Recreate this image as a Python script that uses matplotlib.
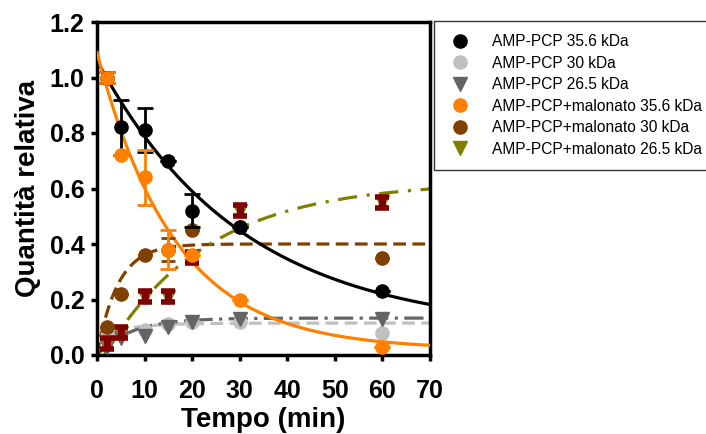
import numpy as np
import matplotlib
matplotlib.use("Agg")
import matplotlib.pyplot as plt
from matplotlib.lines import Line2D

plt.rcParams['font.family'] = ['Liberation Sans', 'DejaVu Sans']

# ---- data ----
t = np.array([2, 5, 10, 15, 20, 30, 60])
amp_356 = [1.00, 0.82, 0.81, 0.70, 0.52, 0.46, 0.23]
amp_356_err = [0.02, 0.10, 0.08, 0.00, 0.06, 0.00, 0.00]
amp_30 = [0.07, 0.08, 0.09, 0.11, 0.12, 0.12, 0.08]
amp_265 = [0.03, 0.06, 0.07, 0.10, 0.12, 0.13, 0.13]
mal_356 = [1.00, 0.72, 0.64, 0.38, 0.36, 0.20, 0.03]
mal_356_err = [0.02, 0.00, 0.10, 0.07, 0.00, 0.00, 0.00]
mal_30 = [0.10, 0.22, 0.36, 0.38, 0.45, 0.46, 0.35]
mal_30_err = [0.00, 0.00, 0.00, 0.04, 0.00, 0.00, 0.00]
mal_265 = [0.04, 0.08, 0.21, 0.21, 0.35, 0.52, 0.55]
mal_265_err = [0.02, 0.02, 0.02, 0.02, 0.02, 0.02, 0.02]

labels = ["AMP-PCP 35.6 kDa", "AMP-PCP 30 kDa", "AMP-PCP 26.5 kDa",
          "AMP-PCP+malonato 35.6 kDa", "AMP-PCP+malonato 30 kDa",
          "AMP-PCP+malonato 26.5 kDa"]

# fitted curve parameters
fit_amp_356 = dict(c=0.085, a=0.977, k=0.033)      # decay
fit_mal_356 = dict(c=0.02, a=1.07, k=0.061)        # decay
fit_amp_30 = dict(c=0.065, a=0.05, k=0.15)         # rise
fit_amp_265 = dict(c=0.0, a=0.133, k=0.14)         # rise
fit_mal_30 = dict(c=0.0, a=0.40, k=0.23)           # rise
fit_mal_265 = dict(c=0.0, a=0.625, k=0.046, t0=1.5)  # rise

C_BLACK = "#000000"
C_LGRAY = "#C0C0C0"
C_DGRAY = "#646464"
C_ORANGE = "#FF8000"
C_BROWN = "#804000"
C_OLIVE = "#808000"
C_MAROON = "#800000"

fig = plt.figure(figsize=(7.06, 4.34), dpi=100)
ax = fig.add_axes([97/706, 79/434, 333/706, 333/434])

tt = np.linspace(0, 70, 400)

def decay(p, x):
    return p['c'] + p['a'] * np.exp(-p['k'] * x)

def rise(p, x):
    t0 = p.get('t0', 0.0)
    xx = np.clip(x - t0, 0, None)
    return p['c'] + p['a'] * (1 - np.exp(-p['k'] * xx))

lw = 2.3
ax.plot(tt, rise(fit_amp_30, tt), color=C_LGRAY, lw=lw, ls=(0, (4, 2)), zorder=2)
ax.plot(tt, rise(fit_amp_265, tt), color=C_DGRAY, lw=lw, ls=(0, (6, 2, 1, 2)), zorder=2)
ax.plot(tt, rise(fit_mal_30, tt), color=C_BROWN, lw=lw, ls=(0, (4, 2)), zorder=2)
tt2 = tt[tt >= fit_mal_265['t0']]
ax.plot(tt2, rise(fit_mal_265, tt2), color=C_OLIVE, lw=lw, ls=(0, (6, 3, 1, 3)), zorder=2)
ax.plot(tt, decay(fit_amp_356, tt), color=C_BLACK, lw=lw, zorder=3)
ax.plot(tt, decay(fit_mal_356, tt), color=C_ORANGE, lw=lw, zorder=3)

ms = 9.5
ax.plot(t, amp_30, 'o', color=C_LGRAY, ms=ms, zorder=4)
ax.plot(t, amp_265, 'v', color=C_DGRAY, ms=ms, zorder=4)
ax.plot(t, mal_265, 'v', color=C_OLIVE, ms=ms, zorder=4)
ax.errorbar(t, mal_265, yerr=mal_265_err, fmt='none', ecolor=C_MAROON,
            elinewidth=5, capsize=5, capthick=4, zorder=5)
ax.plot(t, mal_265, '^', color=C_MAROON, ms=6, zorder=5)
ax.errorbar(t, mal_30, yerr=mal_30_err, fmt='o', color=C_BROWN, ms=ms,
            elinewidth=2, capsize=5, capthick=2, zorder=5)
ax.errorbar(t, amp_356, yerr=amp_356_err, fmt='o', color=C_BLACK, ms=ms,
            elinewidth=2, capsize=6, capthick=2, zorder=6)
ax.errorbar(t, mal_356, yerr=mal_356_err, fmt='o', color=C_ORANGE, ms=ms,
            elinewidth=2, capsize=6, capthick=2, zorder=6)

ax.set_xlim(0, 70)
ax.set_ylim(0, 1.2)
ax.set_xticks(np.arange(0, 71, 10))
ax.set_yticks(np.arange(0, 1.21, 0.2))
ax.set_yticklabels([f"{v:.1f}" for v in np.arange(0, 1.21, 0.2)])
for s in ax.spines.values():
    s.set_linewidth(2.5)
ax.tick_params(direction='out', length=4, width=2.5, labelsize=18)
ax.tick_params(axis='x', pad=13)
ax.tick_params(axis='y', pad=5)
for lab in ax.get_xticklabels() + ax.get_yticklabels():
    lab.set_fontweight('bold')
ax.set_xlabel("Tempo (min)", fontsize=20, fontweight='bold', labelpad=3)
ax.set_ylabel("Quantità relativa", fontsize=20, fontweight='bold', labelpad=6)

handles = [
    Line2D([], [], marker='o', ls='none', color=C_BLACK, ms=ms),
    Line2D([], [], marker='o', ls='none', color=C_LGRAY, ms=ms),
    Line2D([], [], marker='v', ls='none', color=C_DGRAY, ms=ms),
    Line2D([], [], marker='o', ls='none', color=C_ORANGE, ms=ms),
    Line2D([], [], marker='o', ls='none', color=C_BROWN, ms=ms),
    Line2D([], [], marker='v', ls='none', color=C_OLIVE, ms=ms),
]
leg = fig.legend(handles, labels, loc='upper left',
                 bbox_to_anchor=(434/706, 1 - 21/434), fontsize=11.2,
                 frameon=True, fancybox=False, edgecolor='black',
                 borderpad=0.85, labelspacing=0.42, handletextpad=1.3,
                 handlelength=1.6, borderaxespad=0)
leg.get_frame().set_linewidth(1.0)

fig.savefig("out.png", dpi=100)
